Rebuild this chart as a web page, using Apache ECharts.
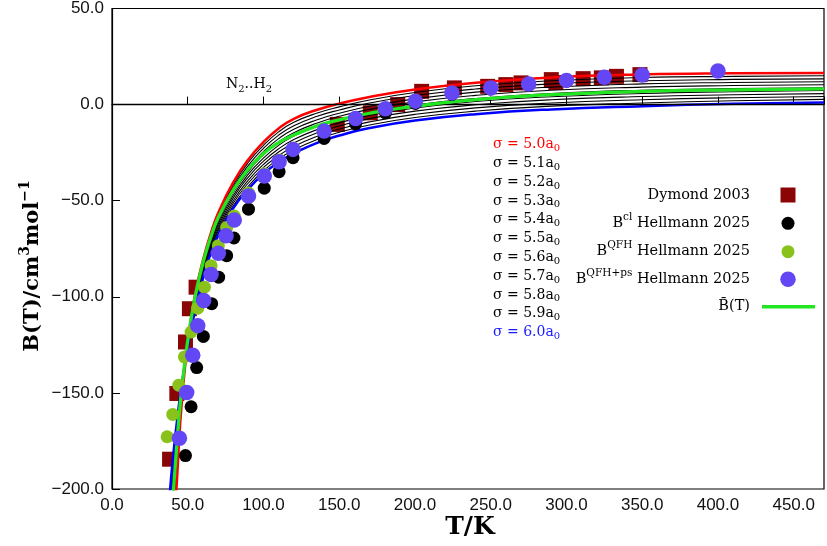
<!DOCTYPE html>
<html><head><meta charset="utf-8">
<script src="https://cdn.jsdelivr.net/npm/echarts@6/dist/echarts.min.js"></script>
<style>html,body{margin:0;padding:0;background:#fff}#c{width:827px;height:546px}</style>
</head><body><div id="c"></div>
<script>
// temperature grid (K) on which the sigma curves were read
const T_GRID = [37, 39, 41, 43, 45, 48, 51, 55, 60, 65, 70, 80, 90, 100, 110, 120, 135, 150, 170, 200, 240, 290, 350, 410, 470];
// B(T) curves for sigma = 5.0 ... 6.0 a0
const S50 = [-285,-250,-220,-194,-166,-138,-118,-98,-81,-67.5,-56.5,-40.5,-28.5,-19.5,-12.4,-7.4,-2.8,0.5,4.0,7.9,11.4,14.1,15.7,16.3,16.5];
const S51 = [-277.8,-244.4,-215.8,-191.0,-164.6,-137.7,-118.4,-98.9,-82.0,-68.5,-57.7,-41.9,-30.0,-21.2,-14.2,-9.2,-4.5,-1.2,2.4,6.3,9.8,12.4,14.1,14.7,15.0];
const S52 = [-270.6,-238.8,-211.6,-188.0,-163.1,-137.5,-118.7,-99.7,-82.9,-69.6,-58.9,-43.2,-31.6,-22.8,-15.9,-11.0,-6.2,-2.8,0.8,4.7,8.1,10.8,12.4,13.1,13.4];
const S53 = [-263.3,-233.3,-207.4,-185.0,-161.7,-137.2,-119.1,-100.6,-83.9,-70.6,-60.0,-44.6,-33.1,-24.5,-17.7,-12.8,-8.0,-4.5,-0.9,3.0,6.5,9.1,10.8,11.5,11.9];
const S54 = [-256.1,-227.7,-203.2,-182.0,-160.2,-137.0,-119.5,-101.4,-84.8,-71.6,-61.2,-45.9,-34.7,-26.1,-19.4,-14.6,-9.7,-6.1,-2.5,1.4,4.8,7.5,9.1,9.9,10.3];
const S55 = [-248.9,-222.1,-199.1,-179.0,-158.8,-136.7,-119.9,-102.3,-85.8,-72.7,-62.4,-47.3,-36.2,-27.8,-21.2,-16.4,-11.4,-7.8,-4.1,-0.2,3.2,5.8,7.5,8.3,8.8];
const S56 = [-241.7,-216.5,-194.9,-175.9,-157.3,-136.4,-120.2,-103.2,-86.7,-73.7,-63.6,-48.6,-37.7,-29.4,-23.0,-18.2,-13.1,-9.5,-5.7,-1.8,1.6,4.1,5.8,6.7,7.3];
const S57 = [-234.5,-210.9,-190.7,-172.9,-155.9,-136.2,-120.6,-104.0,-87.7,-74.7,-64.8,-50.0,-39.3,-31.1,-24.7,-20.0,-14.8,-11.1,-7.3,-3.4,-0.1,2.5,4.2,5.1,5.7];
const S58 = [-227.2,-205.4,-186.5,-169.9,-154.4,-135.9,-121.0,-104.9,-88.6,-75.7,-65.9,-51.3,-40.8,-32.7,-26.5,-21.8,-16.6,-12.8,-9.0,-5.1,-1.7,0.8,2.5,3.6,4.2];
const S59 = [-220.0,-199.8,-182.3,-166.9,-153.0,-135.7,-121.3,-105.7,-89.6,-76.8,-67.1,-52.7,-42.4,-34.4,-28.2,-23.6,-18.3,-14.4,-10.6,-6.7,-3.4,-0.8,0.8,2.0,2.7];
const S60 = [-212.8,-194.2,-178.1,-163.9,-151.5,-135.4,-121.7,-106.6,-90.5,-77.8,-68.3,-54.0,-43.9,-36.0,-30.0,-25.4,-20.0,-16.1,-12.2,-8.3,-5.0,-2.5,-0.8,0.4,1.1];
// mean curve B-bar(T)
const B_MEAN = [-246,-218,-196,-175,-156,-134.5,-117.5,-99.5,-82.5,-69.5,-59,-44.5,-33.5,-25.5,-19.8,-15.8,-11.2,-7.9,-4.5,-0.8,2.6,5.2,6.9,7.7,8.2];
const SIGMA_NAMES = ['5.0','5.1','5.2','5.3','5.4','5.5','5.6','5.7','5.8','5.9','6.0'];

// Dymond 2003 experimental data
const DYM_T = [38, 42.8, 48.5, 51.1, 55.5, 148.7, 170.5, 188.6, 204.4, 226, 248, 260, 270, 290, 293, 311, 323, 333, 348.5];
const DYM_B = [-184.5, -150.3, -123.5, -106.2, -95, -10.3, -4.3, 0, 6.9, 8.7, 9.5, 10.4, 11.3, 13.0, 11.5, 13.5, 13.9, 14.7, 15.6];
// B^cl Hellmann 2025
const CL_T = [48.5, 52.2, 55.9, 60.3, 65.8, 70.4, 75.7, 80.5, 90.1, 100.5, 110.3, 119.5, 140, 160.8, 180.5, 200.3, 224.4, 250, 275, 300, 325, 350, 400];
const CL_B = [-182.6, -157.2, -136.8, -120.6, -103.6, -89.8, -78.6, -69.4, -54.4, -43.5, -34.9, -27.6, -17.6, -10.0, -4.3, 0.6, 5.3, 8.1, 10.2, 12.2, 13.8, 15.1, 17.2];
// B^QFH Hellmann 2025
const QFH_T = [36.4, 40.1, 44.1, 47.8, 52.2, 56.6, 61, 65.4, 70.2, 75.7, 80.7, 90.1, 100.5, 110.3, 119.5];
const QFH_B = [-172.8, -161.2, -146, -131.3, -118.3, -105.9, -95, -83.8, -73.4, -63.9, -58.0, -46.0, -36.0, -28.8, -22.6];
// B^QFH+ps Hellmann 2025
const PS_T = [44.5, 49.3, 53.3, 56.6, 60.5, 65.4, 70.2, 75.3, 80.7, 90.1, 100.5, 110.3, 119.5, 140, 160.8, 180.5, 200.3, 224.4, 250, 275, 300, 325, 350, 400];
const PS_B = [-173.6, -149.8, -130.4, -115, -101.9, -88.4, -77.4, -68.3, -60.1, -47.5, -37.1, -29.7, -23.3, -13.8, -7.2, -2.2, 1.8, 6.1, 8.7, 10.7, 12.6, 14.2, 15.4, 17.5];

const X_MIN = 0, X_MAX = 470, X_STEP = 50;
const Y_MIN = -200, Y_MAX = 50, Y_STEP = 50;

const SERIF = '"DejaVu Serif", "Liberation Serif", serif';
const SANS = '"Liberation Sans", Arial, sans-serif';
const C_RED = '#ff0000', C_BLUE = '#0000ff', C_GREEN = '#22e622';
const C_DYM = '#8a0606', C_QFH = '#88c21a', C_PS = '#6346f4';

const zip = (xs, ys) => xs.map((x, i) => [x, ys[i]]);
const curves = [S50, S51, S52, S53, S54, S55, S56, S57, S58, S59, S60];

const series = [];
series.push({
  type: 'line', data: [], z: 1, silent: true,
  markLine: { symbol: 'none', silent: true, animation: false, label: { show: false },
    lineStyle: { color: '#000', width: 1.3, type: 'solid' }, data: [{ yAxis: 0 }] }
});
series.push({
  name: 'Dymond 2003', type: 'scatter', data: zip(DYM_T, DYM_B), symbol: 'rect', symbolSize: 15,
  itemStyle: { color: C_DYM, opacity: 1 }, z: 2
});
curves.forEach((vals, i) => {
  const edge = (i === 0 || i === curves.length - 1);
  series.push({
    name: 'σ = ' + SIGMA_NAMES[i] + 'a0', type: 'line', data: zip(T_GRID, vals),
    showSymbol: false, smooth: 0.5, clip: true,
    lineStyle: { color: i === 0 ? C_RED : (edge ? C_BLUE : '#000'), width: edge ? 2.5 : 1.1 },
    z: edge ? 4 : 3, silent: true
  });
});
series.push({
  name: 'B̄(T)', type: 'line', data: zip(T_GRID, B_MEAN), showSymbol: false, smooth: 0.5,
  clip: true, lineStyle: { color: C_GREEN, width: 3.3 }, z: 5, silent: true
});
series.push({ name: 'Bcl', type: 'scatter', data: zip(CL_T, CL_B), symbolSize: 13, itemStyle: { color: '#000', opacity: 1 }, z: 6 });
series.push({ name: 'BQFH', type: 'scatter', data: zip(QFH_T, QFH_B), symbolSize: 13, itemStyle: { color: C_QFH, opacity: 1 }, z: 7 });
series.push({ name: 'BQFH+ps', type: 'scatter', data: zip(PS_T, PS_B), symbolSize: 15.5, itemStyle: { color: C_PS, opacity: 1 }, z: 8 });

// graphic texts
const graphics = [];
graphics.push({
  type: 'text', x: 33, y: 266, rotation: Math.PI / 2,
  style: {
    text: '{m|B(T)/cm}{s|3}{m|mol}{s|\u22121}', align: 'center', verticalAlign: 'middle',
    rich: {
      m: { fontFamily: SERIF, fontWeight: 'bold', fontSize: 21, lineHeight: 30, fill: '#000' },
      s: { fontFamily: SERIF, fontWeight: 'bold', fontSize: 14, verticalAlign: 'top', lineHeight: 30, fill: '#000' }
    }
  }
});
graphics.push({
  type: 'text', x: 470, y: 527,
  style: { text: 'T/K', align: 'center', verticalAlign: 'middle', fontFamily: SERIF, fontWeight: 'bold', fontSize: 25, fill: '#000' }
});
graphics.push({
  type: 'text', x: 249, y: 84,
  style: {
    text: '{m|N}{b|2}{m|..H}{b|2}', align: 'center', verticalAlign: 'middle',
    rich: {
      m: { fontFamily: SERIF, fontSize: 14, lineHeight: 20, fill: '#000' },
      b: { fontFamily: SERIF, fontSize: 10, verticalAlign: 'bottom', lineHeight: 20, fill: '#000' }
    }
  }
});
SIGMA_NAMES.forEach((s, i) => {
  const col = i === 0 ? C_RED : (i === SIGMA_NAMES.length - 1 ? '#1a1aff' : '#000');
  graphics.push({
    type: 'text', x: 493, y: 144.5 + i * 18.8,
    style: {
      text: '{m|σ = ' + s + 'a}{b|0}', align: 'left', verticalAlign: 'middle',
      rich: {
        m: { fontFamily: SERIF, fontSize: 14, lineHeight: 18, fill: col },
        b: { fontFamily: SERIF, fontSize: 10, verticalAlign: 'bottom', lineHeight: 18, fill: col }
      }
    }
  });
});
const LEG_X = 750, LEG_SYM = 788;
const LEG_Y = [195, 223.3, 251.7, 279.3, 306.7];
const legRich = {
  m: { fontFamily: SERIF, fontSize: 14.5, lineHeight: 24, fill: '#000' },
  s: { fontFamily: SERIF, fontSize: 10.5, verticalAlign: 'top', lineHeight: 24, fill: '#000' }
};
const LEG_TEXT = ['{m|Dymond 2003}', '{m|B}{s|cl}{m| Hellmann 2025}', '{m|B}{s|QFH}{m| Hellmann 2025}',
  '{m|B}{s|QFH+ps}{m| Hellmann 2025}', '{m|B\u0304(T)}'];
LEG_TEXT.forEach((t, i) => {
  graphics.push({ type: 'text', x: LEG_X, y: LEG_Y[i], style: { text: t, align: 'right', verticalAlign: 'middle', rich: legRich } });
});
graphics.push({ type: 'rect', shape: { x: LEG_SYM - 7.5, y: LEG_Y[0] - 7.5, width: 15, height: 15 }, style: { fill: C_DYM } });
graphics.push({ type: 'circle', shape: { cx: LEG_SYM, cy: LEG_Y[1], r: 6.5 }, style: { fill: '#000' } });
graphics.push({ type: 'circle', shape: { cx: LEG_SYM, cy: LEG_Y[2], r: 6.5 }, style: { fill: C_QFH } });
graphics.push({ type: 'circle', shape: { cx: LEG_SYM, cy: LEG_Y[3], r: 7.75 }, style: { fill: C_PS } });
graphics.push({ type: 'line', shape: { x1: 762, y1: LEG_Y[4], x2: 815, y2: LEG_Y[4] }, style: { stroke: C_GREEN, lineWidth: 3.5 } });

const chart = echarts.init(document.getElementById('c'));
chart.setOption({
  animation: false,
  backgroundColor: '#fff',
  grid: { left: 112, right: 1, top: 7, bottom: 57, show: true, borderColor: '#000', borderWidth: 1.2, backgroundColor: 'transparent' },
  xAxis: {
    type: 'value', min: X_MIN, max: X_MAX, interval: X_STEP,
    axisLine: { lineStyle: { color: '#000', width: 1.2 } },
    axisTick: { inside: true, length: 8, lineStyle: { color: '#000', width: 1 } },
    axisLabel: { margin: 8, fontFamily: SANS, fontSize: 17, color: '#111',
      formatter: v => (Math.abs(v % X_STEP) < 1e-9 ? v.toFixed(1) : '') },
    splitLine: { show: false }
  },
  yAxis: {
    type: 'value', min: Y_MIN, max: Y_MAX, interval: Y_STEP,
    axisLine: { lineStyle: { color: '#000', width: 1.2 } },
    axisTick: { inside: true, length: 8, lineStyle: { color: '#000', width: 1 } },
    axisLabel: { margin: 8, fontFamily: SANS, fontSize: 17, color: '#111',
      formatter: v => (v < 0 ? '\u2212' : '') + Math.abs(v).toFixed(1) },
    splitLine: { show: false }
  },
  series: series,
  graphic: graphics
});
</script></body></html>
